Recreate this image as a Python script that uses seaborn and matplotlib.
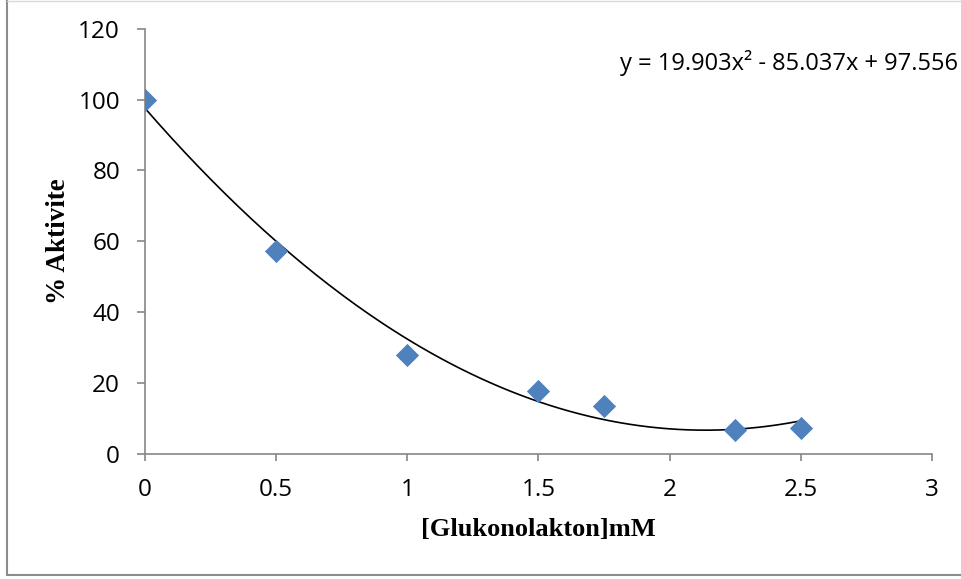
import numpy as np
import pandas as pd
import matplotlib
matplotlib.use("Agg")
import matplotlib.pyplot as plt
from matplotlib.lines import Line2D
import seaborn as sns

# Measured activity versus gluconolactone concentration
concentration_mM = [0.0, 0.5, 1.0, 1.5, 1.75, 2.25, 2.5]
activity_pct = [100.0, 57.4, 27.8, 17.9, 13.6, 6.8, 7.4]

# Second-order polynomial trendline coefficients (a*x^2 + b*x + c)
trend_coeffs = [19.903, -85.037, 97.556]
equation_label = "y = 19.903x\u00b2 - 85.037x + 97.556"

x_ticks = [0, 0.5, 1, 1.5, 2, 2.5, 3]
x_tick_labels = ["0", "0.5", "1", "1.5", "2", "2.5", "3"]
y_ticks = [0, 20, 40, 60, 80, 100, 120]

sns.set_theme(style="white")
plt.rcParams["font.family"] = ["Open Sans", "DejaVu Sans"]

df = pd.DataFrame({"conc": concentration_mM, "act": activity_pct})

fig = plt.figure(figsize=(9.62, 5.79), dpi=100)
ax = fig.add_axes([145 / 962, 1 - 454 / 579, (932 - 145) / 962, (454 - 28.7) / 579])

# Trendline drawn from the stated coefficients
xs = np.linspace(0, 2.5, 200)
ys = np.polyval(trend_coeffs, xs)
ax.plot(xs, ys, color="black", linewidth=1.2, zorder=2)

sns.scatterplot(data=df, x="conc", y="act", marker="D", s=140,
                color="#4F81BD", linewidth=0, ax=ax, zorder=3)

ax.set_xlim(0, 3)
ax.set_ylim(0, 120)
ax.set_xticks(x_ticks)
ax.set_xticklabels(x_tick_labels)
ax.set_yticks(y_ticks)
ax.set_yticklabels([str(v) for v in y_ticks])

for side in ("top", "right"):
    ax.spines[side].set_visible(False)
for side in ("left", "bottom"):
    ax.spines[side].set_color("#868686")
    ax.spines[side].set_linewidth(1.2)

ax.tick_params(axis="y", direction="out", length=6, width=1.2, color="#868686",
               pad=12, labelsize=17.5, labelcolor="black", left=True)
ax.tick_params(axis="x", direction="out", length=5, width=1.2, color="#868686",
               pad=12, labelsize=17.5, labelcolor="black", bottom=True)

ax.set_xlabel("[Glukonolakton]mM", family="Liberation Serif", fontweight="bold",
              fontsize=19, labelpad=12, color="black")
ax.set_ylabel("% Aktivite", family="Liberation Serif", fontweight="bold",
              fontsize=19.5, labelpad=5, color="black")

fig.text(958 / 962, 1 - 63 / 579, equation_label, ha="right", va="center",
         fontsize=17, color="black")

# Chart area frame
fig.add_artist(Line2D([7.5 / 962, 7.5 / 962], [4 / 579, 1], transform=fig.transFigure,
                      color="#8c8c8c", linewidth=1.5))
fig.add_artist(Line2D([7.5 / 962, 1], [4 / 579, 4 / 579], transform=fig.transFigure,
                      color="#8c8c8c", linewidth=1.5))
fig.add_artist(Line2D([7.5 / 962, 1], [1 - 0.5 / 579, 1 - 0.5 / 579],
                      transform=fig.transFigure, color="#d9d9d9", linewidth=1.0))

fig.savefig("out.png", dpi=100)
